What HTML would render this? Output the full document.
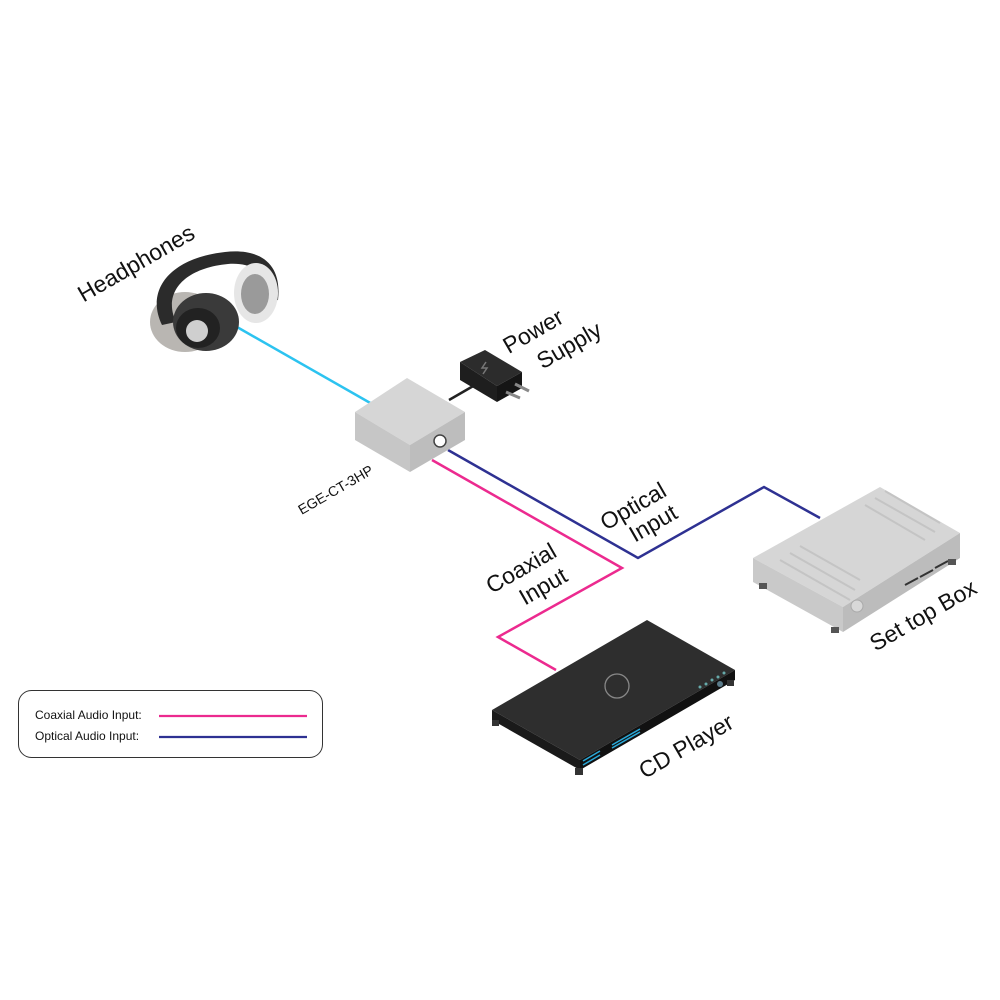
<!DOCTYPE html>
<html><head><meta charset="utf-8"><style>
html,body{margin:0;padding:0;background:#fff;}
svg{display:block;}
text{font-family:"Liberation Sans",sans-serif;fill:#111;}
</style></head><body>
<svg width="1000" height="1000" viewBox="0 0 1000 1000" xmlns="http://www.w3.org/2000/svg">
<!-- cables -->
<line x1="237" y1="327" x2="372" y2="404" stroke="#2cc3f0" stroke-width="2.5"/>
<line x1="449" y1="400" x2="475" y2="385" stroke="#222" stroke-width="2.5"/>
<polyline points="448,450 638,558 764,487 820,518" fill="none" stroke="#2e3192" stroke-width="2.5"/>
<polyline points="432,460 622,568 498,637 556,670" fill="none" stroke="#ec2a8f" stroke-width="2.5"/>

<!-- headphones -->
<g>
<ellipse cx="185" cy="322" rx="35" ry="30" fill="#b9b6b2"/>
<path d="M162,325 C145,290 170,258 225,252 C262,248 282,265 278,300 L266,302 C270,275 255,262 228,264 C185,268 162,292 176,322 Z" fill="#2b2b2b"/>
<ellipse cx="256" cy="293" rx="22" ry="30" fill="#e6e6e6"/>
<ellipse cx="255" cy="294" rx="14" ry="20" fill="#9a9a9a"/>
<ellipse cx="206" cy="322" rx="33" ry="29" fill="#3a3a3a"/>
<ellipse cx="198" cy="328" rx="22" ry="20" fill="#222"/>
<circle cx="197" cy="331" r="11" fill="#cfcfcf"/>
</g>

<!-- EGE box -->
<polygon points="355,412 407,378 465,412 410,445" fill="#d6d6d6"/>
<polygon points="355,412 410,445 410,472 355,440" fill="#c6c6c6"/>
<polygon points="410,445 465,412 465,440 410,472" fill="#bdbdbd"/>
<circle cx="440" cy="441" r="6" fill="#fff" stroke="#444" stroke-width="1.5"/>

<!-- power supply -->
<polygon points="460,362 485,350 522,372 497,386" fill="#2c2c2c"/>
<polygon points="460,362 497,386 497,402 460,380" fill="#1e1e1e"/>
<polygon points="497,386 522,372 522,388 497,402" fill="#151515"/>
<path d="M486,362 l-4,6 h5 l-4,6" stroke="#777" stroke-width="1.5" fill="none"/>
<line x1="506" y1="392" x2="520" y2="398" stroke="#888" stroke-width="3"/>
<line x1="515" y1="384" x2="529" y2="391" stroke="#888" stroke-width="3"/>

<!-- set top box -->
<polygon points="753,558 880,487 960,533 843,607" fill="#d6d6d6"/>
<polygon points="753,558 843,607 843,632 753,582" fill="#c9c9c9"/>
<polygon points="843,607 960,533 960,558 843,632" fill="#bcbcbc"/>
<circle cx="857" cy="606" r="6" fill="#d8d8d8" stroke="#aaa"/>
<g stroke="#c4c4c4" stroke-width="2">
<line x1="780" y1="560" x2="850" y2="600"/><line x1="790" y1="553" x2="855" y2="590"/><line x1="800" y1="546" x2="860" y2="580"/>
<line x1="865" y1="505" x2="925" y2="540"/><line x1="875" y1="498" x2="935" y2="532"/><line x1="885" y1="491" x2="940" y2="523"/>
</g>
<g stroke="#333" stroke-width="2">
<line x1="905" y1="585" x2="918" y2="578"/><line x1="920" y1="577" x2="933" y2="570"/><line x1="935" y1="568" x2="948" y2="561"/>
</g>
<rect x="759" y="583" width="8" height="6" fill="#555"/>
<rect x="831" y="627" width="8" height="6" fill="#555"/>
<rect x="948" y="559" width="8" height="6" fill="#555"/>

<!-- CD player -->
<polygon points="492,710 647,620 735,670 580,760" fill="#2e2e2e"/>
<polygon points="492,710 580,760 580,770 492,720" fill="#1a1a1a"/>
<polygon points="580,760 735,670 735,680 580,770" fill="#111"/>
<circle cx="617" cy="686" r="12" fill="none" stroke="#888" stroke-width="1.3"/>
<g stroke="#2aa8d8" stroke-width="1.5">
<line x1="583" y1="765" x2="600" y2="755"/><line x1="583" y1="761" x2="600" y2="751"/>
<line x1="612" y1="748" x2="640" y2="732"/><line x1="612" y1="745" x2="640" y2="729"/>
</g>
<g fill="#6aa"><circle cx="700" cy="687" r="1.5"/><circle cx="706" cy="684" r="1.5"/><circle cx="712" cy="680" r="1.5"/><circle cx="718" cy="677" r="1.5"/><circle cx="724" cy="673" r="1.5"/></g>
<circle cx="720" cy="684" r="3" fill="#5a7b8a"/>
<rect x="492" y="720" width="7" height="6" fill="#333"/>
<rect x="575" y="768" width="8" height="7" fill="#333"/>
<rect x="727" y="680" width="7" height="6" fill="#333"/>

<!-- labels -->
<text x="140" y="270" font-size="23" text-anchor="middle" transform="rotate(-30 140 270)">Headphones</text>
<text x="537" y="338" font-size="23" text-anchor="middle" transform="rotate(-30 537 338)">Power</text>
<text x="573" y="352" font-size="23" text-anchor="middle" transform="rotate(-30 573 352)">Supply</text>
<text x="338" y="494" font-size="14" text-anchor="middle" transform="rotate(-30 338 494)">EGE-CT-3HP</text>
<text x="637" y="513" font-size="23" text-anchor="middle" transform="rotate(-30 637 513)">Optical</text>
<text x="657" y="530" font-size="23" text-anchor="middle" transform="rotate(-30 657 530)">Input</text>
<text x="525" y="575" font-size="23" text-anchor="middle" transform="rotate(-30 525 575)">Coaxial</text>
<text x="547" y="593" font-size="23" text-anchor="middle" transform="rotate(-30 547 593)">Input</text>
<text x="927" y="622" font-size="23" text-anchor="middle" transform="rotate(-30 927 622)">Set top Box</text>
<text x="690" y="753" font-size="23" text-anchor="middle" transform="rotate(-30 690 753)">CD Player</text>

<!-- legend -->
<rect x="18.5" y="690.5" width="304" height="67" rx="13" fill="#fff" stroke="#333" stroke-width="1"/>
<text x="35" y="719" font-size="12">Coaxial Audio Input:</text>
<text x="35" y="740" font-size="12">Optical Audio Input:</text>
<line x1="159" y1="716" x2="307" y2="716" stroke="#ec2a8f" stroke-width="2.2"/>
<line x1="159" y1="737" x2="307" y2="737" stroke="#2e3192" stroke-width="2.2"/>
</svg>
</body></html>
